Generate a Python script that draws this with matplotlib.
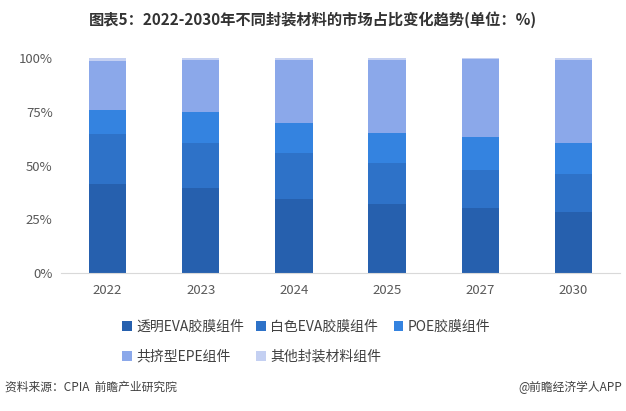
import matplotlib
matplotlib.use("Agg")
import matplotlib.pyplot as plt
from matplotlib.ticker import FuncFormatter
import numpy as np

plt.rcParams['font.family'] = ['Noto Sans CJK SC', 'DejaVu Sans']

years = ['2022', '2023', '2024', '2025', '2027', '2030']
series_names = ['透明EVA胶膜组件', '白色EVA胶膜组件', 'POE胶膜组件', '共挤型EPE组件', '其他封装材料组件']
transparent_eva = [41.5, 39.8, 34.6, 32.2, 30.4, 28.5]
white_eva = [23.2, 20.8, 21.4, 19.0, 17.7, 17.4]
poe = [11.3, 14.4, 13.9, 14.1, 15.3, 14.7]
epe = [22.9, 24.2, 29.3, 33.9, 36.1, 38.6]
other = [1.1, 0.8, 0.8, 0.8, 0.5, 0.8]
colors = ['#2660AE', '#2E72C8', '#3483E0', '#8BA8EA', '#C4D0F2']

fig = plt.figure(figsize=(6.26, 4.11), dpi=100)
ax = fig.add_axes([0.0974, 0.3358, 0.893, 0.5222])

x = np.arange(len(years))
bottom = np.zeros(len(years))
handles = []
for vals, name, c in zip([transparent_eva, white_eva, poe, epe, other], series_names, colors):
    v = np.array(vals)
    b = ax.bar(x, v, width=0.4, bottom=bottom, color=c, label=name, zorder=2)
    handles.append(b)
    bottom += v

ax.set_xlim(-0.5, len(years) - 0.5)
ax.set_ylim(0, 100)
ax.set_yticks([0, 25, 50, 75, 100])
ax.yaxis.set_major_formatter(FuncFormatter(lambda v, p: f'{int(v)}%'))
ax.set_xticks(x)
ax.set_xticklabels(years)
for s in ['top', 'right', 'left']:
    ax.spines[s].set_visible(False)
ax.spines['bottom'].set_color('#D9D9D9')
ax.tick_params(axis='both', length=0, labelsize=9.5, colors='#595959')
ax.tick_params(axis='x', pad=8)
ax.tick_params(axis='y', pad=6)

fig.text(0.5, 0.953, '图表5：2022-2030年不同封装材料的市场占比变化趋势(单位：%)',
         ha='center', va='center', fontsize=11, fontweight='bold', color='#333333')

# row-major ordering for a 3-column legend
order = [0, 3, 1, 4, 2]
leg = fig.legend(handles=[handles[i] for i in order], labels=[series_names[i] for i in order],
                 ncol=3, loc='upper left',
                 bbox_to_anchor=(0.175, 0.253), frameon=False, fontsize=10,
                 handlelength=0.7, handleheight=0.7, handletextpad=0.3,
                 columnspacing=0.9, labelspacing=1.18, labelcolor='#404040')

fig.text(0.008, 0.057, '资料来源：CPIA  前瞻产业研究院', ha='left', va='center',
         fontsize=8.5, color='#404040')
fig.text(0.994, 0.057, '@前瞻经济学人APP', ha='right', va='center',
         fontsize=8.5, color='#404040')

fig.savefig('out.png', dpi=100)
